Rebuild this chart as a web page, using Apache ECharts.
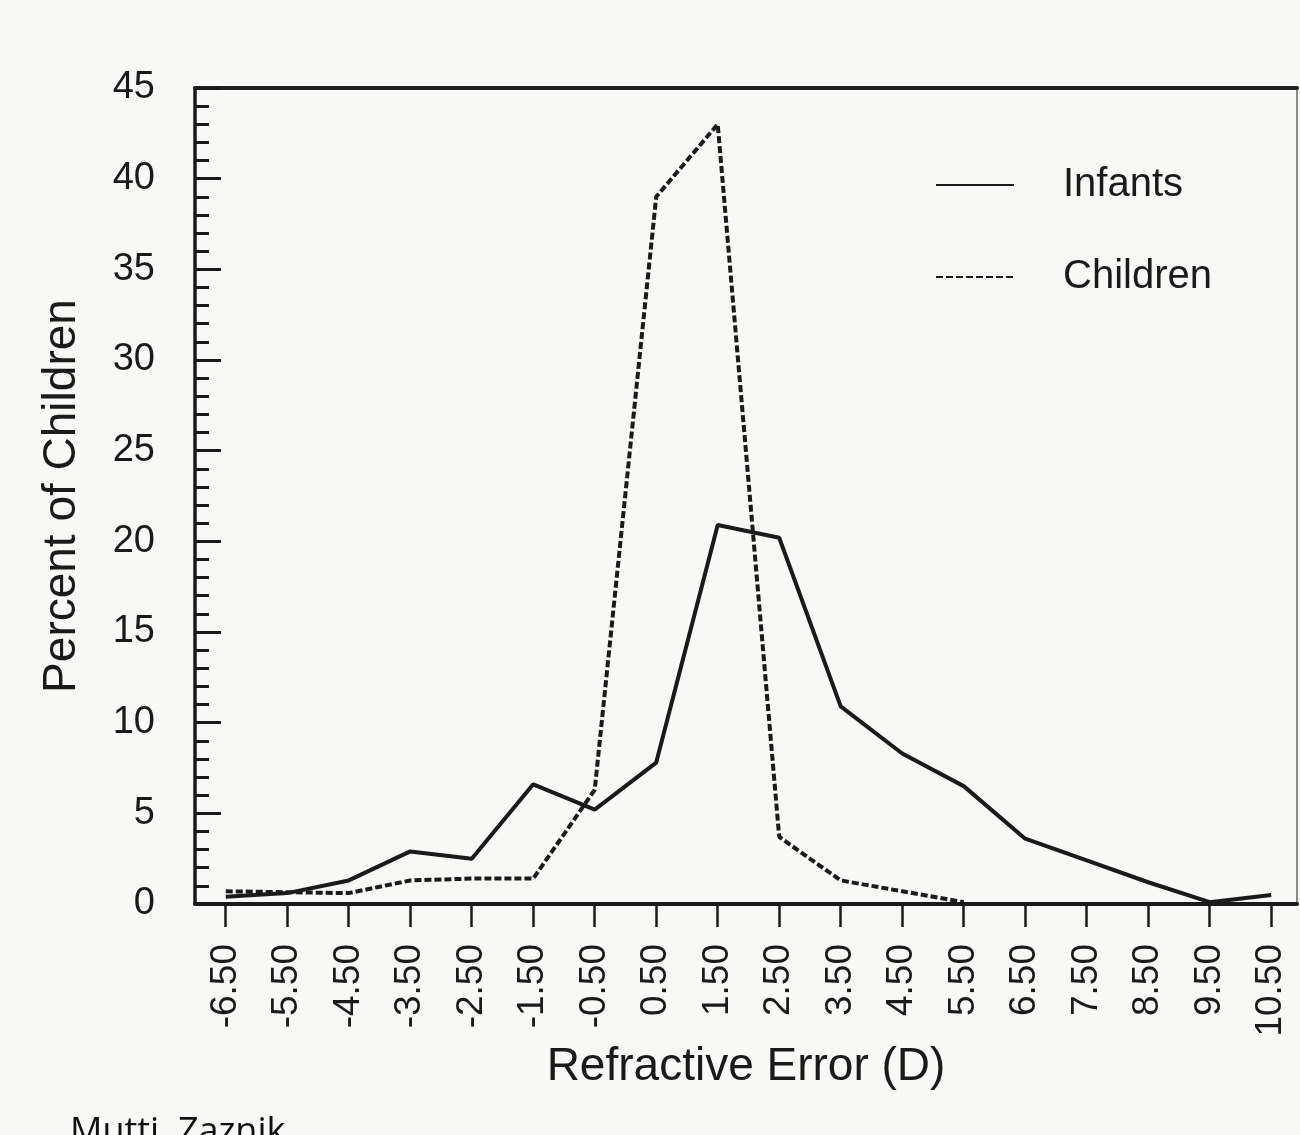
<!DOCTYPE html>
<html>
<head>
<meta charset="utf-8">
<script src="https://cdn.jsdelivr.net/npm/echarts@6/dist/echarts.min.js"></script>
<style>
  html, body { margin: 0; padding: 0; background: #f8f8f6; }
  #chart { width: 1300px; height: 1135px; }
</style>
</head>
<body>
<div id="chart"></div>
<script>
// Refractive error bins (D)
const refractiveError = [-6.5, -5.5, -4.5, -3.5, -2.5, -1.5, -0.5, 0.5, 1.5, 2.5, 3.5, 4.5, 5.5, 6.5, 7.5, 8.5, 9.5, 10.5];
// Percent of children per bin
const infants  = [0.4, 0.6, 1.3, 2.9, 2.5, 6.6, 5.2, 7.8, 20.9, 20.2, 10.9, 8.3, 6.5, 3.6, 2.4, 1.2, 0.1, 0.5];
const children = [0.7, 0.65, 0.6, 1.3, 1.4, 1.4, 6.3, 39.0, 43.0, 3.7, 1.3, 0.7, 0.1, null, null, null, null, null];
const xTickLabels = refractiveError.map(v => v.toFixed(2));
const yTicks = [0, 5, 10, 15, 20, 25, 30, 35, 40, 45];

const FONT = '"Liberation Sans", Arial, sans-serif';
const INK = '#1a1a1a';

const pair = (arr) => refractiveError.map((x, i) => [x, arr[i]]);

const chart = echarts.init(document.getElementById('chart'));
chart.setOption({
  backgroundColor: '#f8f8f6',
  animation: false,
  textStyle: { fontFamily: FONT, color: INK },
  grid: { left: 195, right: 3, top: 88, bottom: 231, containLabel: false },
  legend: {
    orient: 'vertical',
    left: 930,
    top: 160,
    itemWidth: 78,
    itemHeight: 36,
    itemGap: 52,
    itemStyle: { opacity: 0 },
    textStyle: { fontFamily: FONT, fontSize: 40, color: INK, padding: [0, 0, 0, 44] },
    data: ['Infants', 'Children']
  },
  xAxis: [{
    type: 'value',
    min: -7,
    max: 10.92,
    position: 'bottom',
    splitLine: { show: false },
    axisLine: { onZero: false, lineStyle: { color: INK, width: 4 } },
    axisTick: { customValues: refractiveError, inside: false, length: 23, lineStyle: { color: INK, width: 2.5 } },
    axisLabel: {
      customValues: refractiveError,
      formatter: (v) => v.toFixed(2),
      rotate: 90,
      margin: 40,
      fontSize: 37,
      fontFamily: FONT,
      color: INK
    },
    name: 'Refractive Error (D)',
    nameLocation: 'middle',
    nameGap: 140,
    nameTextStyle: { fontFamily: FONT, fontSize: 46, color: INK }
  }, {
    type: 'value',
    min: -7,
    max: 10.92,
    position: 'top',
    splitLine: { show: false },
    axisLine: { show: true, onZero: false, lineStyle: { color: '#222', width: 4 } },
    axisTick: { show: false },
    axisLabel: { show: false }
  }],
  yAxis: [{
    type: 'value',
    min: 0,
    max: 45,
    interval: 5,
    position: 'left',
    splitLine: { show: false },
    axisLine: { show: true, onZero: false, lineStyle: { color: INK, width: 3.5 } },
    axisTick: { show: true, inside: true, length: 26, lineStyle: { color: INK, width: 3 } },
    minorTick: { show: true, splitNumber: 5, length: 14, lineStyle: { color: INK, width: 3 } },
    axisLabel: { margin: 40, fontSize: 38, fontFamily: FONT, color: INK },
    name: 'Percent of Children',
    nameLocation: 'middle',
    nameGap: 110,
    nameTextStyle: { fontFamily: FONT, fontSize: 46, color: INK }
  }, {
    type: 'value',
    min: 0,
    max: 45,
    position: 'right',
    splitLine: { show: false },
    axisLine: { show: true, onZero: false, lineStyle: { color: '#666', width: 1.5 } },
    axisTick: { show: false },
    axisLabel: { show: false }
  }],
  series: [{
    name: 'Infants',
    type: 'line',
    data: pair(infants),
    symbol: 'none',
    lineStyle: { color: INK, width: 4, type: 'solid' },
    itemStyle: { color: INK }
  }, {
    name: 'Children',
    type: 'line',
    data: pair(children),
    symbol: 'none',
    connectNulls: false,
    lineStyle: { color: INK, width: 4, type: [7, 3] },
    itemStyle: { color: INK }
  }],
  graphic: [{
    type: 'text',
    left: 70,
    top: 1115,
    style: { text: 'Mutti, Zaznik', fontFamily: '"Open Sans", "Liberation Sans", sans-serif', fontSize: 36, fill: '#111' }
  }]
});
</script>
</body>
</html>
